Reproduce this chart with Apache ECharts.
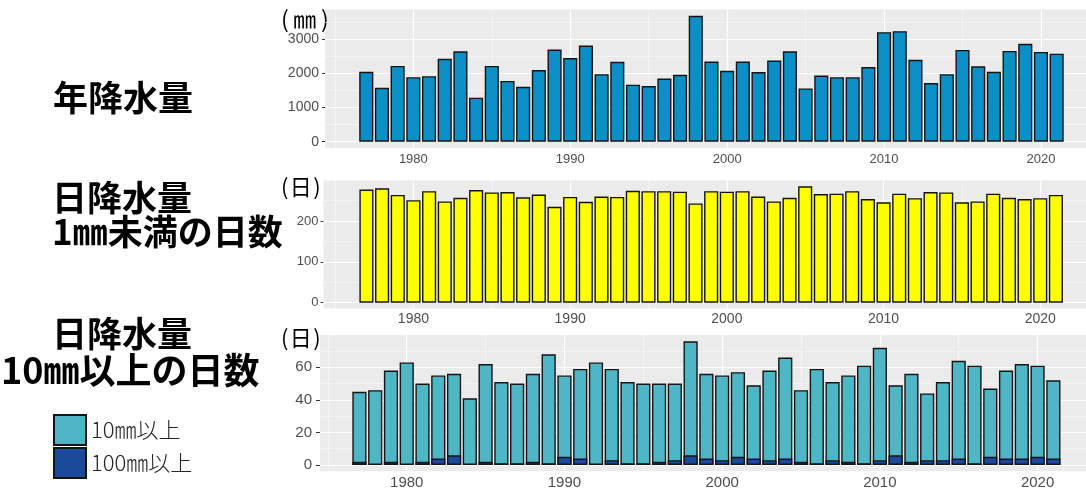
<!DOCTYPE html>
<html><head><meta charset="utf-8">
<script src="https://cdn.jsdelivr.net/npm/echarts@6/dist/echarts.min.js"></script>
<style>html,body{margin:0;padding:0;background:#fff}#c{width:1086px;height:493px}</style>
</head><body><div id="c"></div>
<script>
// ---- data ----
const years = [1977,1978,1979,1980,1981,1982,1983,1984,1985,1986,1987,1988,1989,1990,1991,1992,1993,1994,1995,1996,1997,1998,1999,2000,2001,2002,2003,2004,2005,2006,2007,2008,2009,2010,2011,2012,2013,2014,2015,2016,2017,2018,2019,2020,2021];
const annualPrecip = [2050,1580,2220,1890,1920,2430,2650,1290,2220,1780,1610,2100,2700,2450,2820,1980,2340,1670,1630,1850,1960,3690,2350,2080,2350,2040,2380,2650,1560,1940,1890,1890,2190,3210,3240,2400,1720,1980,2690,2210,2050,2660,2870,2630,2580];
const daysUnder1mm = [277,280,264,251,273,248,257,276,270,271,258,265,235,259,247,260,259,274,273,273,272,243,273,272,273,260,248,257,285,266,267,273,254,246,267,256,271,270,246,248,267,257,254,256,264];
const daysOver10mm = [45,46,58,63,50,55,56,41,62,51,50,56,68,55,59,63,59,51,50,50,50,76,56,55,57,49,58,66,46,59,51,55,61,72,49,56,44,51,64,61,47,58,62,61,52];
const daysOver100mm = [2,0,2,0,2,4,6,0,2,1,1,2,1,5,4,0,3,1,1,2,3,6,4,3,5,4,3,4,2,1,3,2,1,3,6,2,3,3,4,1,5,4,4,5,4];

const xMajorTicks = [1980,1990,2000,2010,2020];
const xMinorTicks = [1975,1985,1995,2005,2015];
const y1Major = [0,1000,2000,3000], y1Minor = [500,1500,2500,3500];
const y2Major = [0,100,200], y2Minor = [50,150,250];
const y3Major = [0,20,40,60], y3Minor = [10,30,50,70];

const seriesNames = ['10㎜以上','100㎜以上'];
const panelTitles = ['年降水量','日降水量','1㎜未満の日数','日降水量','10㎜以上の日数'];
const unitNames = ['㎜','日','日'];

// ---- chart ----
const pairs = vals => years.map((y,i) => [y, vals[i]]);
const labelFont = 'Liberation Sans';
const plain = v => String(v);
const panels = [
  {left:325, top:9.5, height:138.5, xmin:1974.37, xmax:2022.87, ymin:-184.5, ymax:3874.5, yMaj:y1Major, yMin:y1Minor, xfs:13, yfs:14, xm:5, ym:6, tl:3},
  {left:323.5, top:180.5, height:128, xmin:1974.26, xmax:2022.92, ymin:-14.25, ymax:299.25, yMaj:y2Major, yMin:y2Minor, xfs:14, yfs:13, xm:4, ym:5, tl:3},
  {left:320, top:335.1, height:136.1, xmin:1974.5, xmax:2023.07, ymin:-3.8, ymax:79.8, yMaj:y3Major, yMin:y3Minor, xfs:15, yfs:15, xm:4, ym:8, tl:4}
];

const grid = panels.map(p => ({left:p.left, right:0, top:p.top, height:p.height, show:true, backgroundColor:'#ebebeb', borderWidth:0, containLabel:false}));
const xAxis = panels.map((p,i) => ({
  type:'value', gridIndex:i, min:p.xmin, max:p.xmax,
  axisLine:{show:false},
  axisTick:{show:true, customValues:xMajorTicks, length:p.tl, lineStyle:{color:'#333', width:1}},
  axisLabel:{customValues:xMajorTicks, formatter:plain, fontSize:p.xfs, color:'#4d4d4d', margin:p.xm, fontFamily:labelFont},
  splitLine:{show:false}
}));
const yAxis = panels.map((p,i) => ({
  type:'value', gridIndex:i, min:p.ymin, max:p.ymax,
  axisLine:{show:false},
  axisTick:{show:true, customValues:p.yMaj, length:p.tl, lineStyle:{color:'#333', width:1}},
  axisLabel:{customValues:p.yMaj, formatter:plain, fontSize:p.yfs, color:'#4d4d4d', margin:p.ym, fontFamily:labelFont},
  splitLine:{show:false}
}));

function gridLines(p, i) {
  const d = [];
  xMinorTicks.forEach(v => d.push({xAxis:v, lineStyle:{color:'#fafafa', width:0.6, type:'solid'}}));
  p.yMin.forEach(v => d.push({yAxis:v, lineStyle:{color:'#fafafa', width:0.6, type:'solid'}}));
  xMajorTicks.forEach(v => d.push({xAxis:v, lineStyle:{color:'#ffffff', width:1.2, type:'solid'}}));
  p.yMaj.forEach(v => d.push({yAxis:v, lineStyle:{color:'#ffffff', width:1.2, type:'solid'}}));
  return {type:'line', xAxisIndex:i, yAxisIndex:i, data:[], z:1, silent:true,
    markLine:{silent:true, z:1, symbol:['none','none'], label:{show:false}, animation:false, emphasis:{disabled:true}, data:d}};
}

const border = {borderColor:'#151515', borderWidth:1.4};
const series = [
  gridLines(panels[0],0), gridLines(panels[1],1), gridLines(panels[2],2),
  {type:'bar', name:'annual', xAxisIndex:0, yAxisIndex:0, barWidth:'90%', z:3, data:pairs(annualPrecip), itemStyle:Object.assign({color:'#0a8fc6'}, border)},
  {type:'bar', name:'dry', xAxisIndex:1, yAxisIndex:1, barWidth:'90%', z:3, data:pairs(daysUnder1mm), itemStyle:Object.assign({color:'#ffff00'}, border)},
  {type:'bar', name:seriesNames[0], xAxisIndex:2, yAxisIndex:2, barWidth:'90%', barGap:'-100%', z:3, data:pairs(daysOver10mm), itemStyle:Object.assign({color:'#4fb6c6'}, border)},
  {type:'bar', name:seriesNames[1], xAxisIndex:2, yAxisIndex:2, barWidth:'90%', barGap:'-100%', z:4, data:years.map((y,i)=>[y, daysOver100mm[i] === 0 ? null : daysOver100mm[i]]), itemStyle:Object.assign({color:'#1b4a9a'}, border)}
];

const cjk = '"Noto Sans CJK JP"';
const T = (text, x, y, size, weight) => ({type:'text', x:x, y:y, silent:true,
  style:{text:text, font:(weight||'normal')+' '+size+'px '+cjk, fill:'#000', align:'left', verticalAlign:'middle'}});
const graphic = [
  T(panelTitles[0], 53, 98, 35, 'bold'),
  T(panelTitles[1], 52, 197.5, 35, 'bold'),
  T(panelTitles[2], 52, 231.5, 35, 'bold'),
  T(panelTitles[3], 52, 334, 35, 'bold'),
  T(panelTitles[4], 1, 370, 36, 'bold'),
  T('(\u2009' + unitNames[0] + '\u2009)', 281, 19, 23),
  T('(\u200a' + unitNames[1] + '\u200a)', 281, 187, 22),
  T('(\u200a' + unitNames[2] + '\u200a)', 281, 338, 22)
];

const chart = echarts.init(document.getElementById('c'), null, {renderer:'canvas'});
chart.setOption({
  animation:false,
  backgroundColor:'#ffffff',
  grid, xAxis, yAxis, series, graphic,
  legend:{orient:'vertical', left:53, top:414, padding:0, itemWidth:32, itemHeight:30, itemGap:1, icon:'rect', selectedMode:false,
    data:seriesNames, textStyle:{fontSize:22, color:'#222', fontFamily:'Noto Sans CJK JP', fontWeight:300, lineHeight:30}}
});
</script></body></html>
